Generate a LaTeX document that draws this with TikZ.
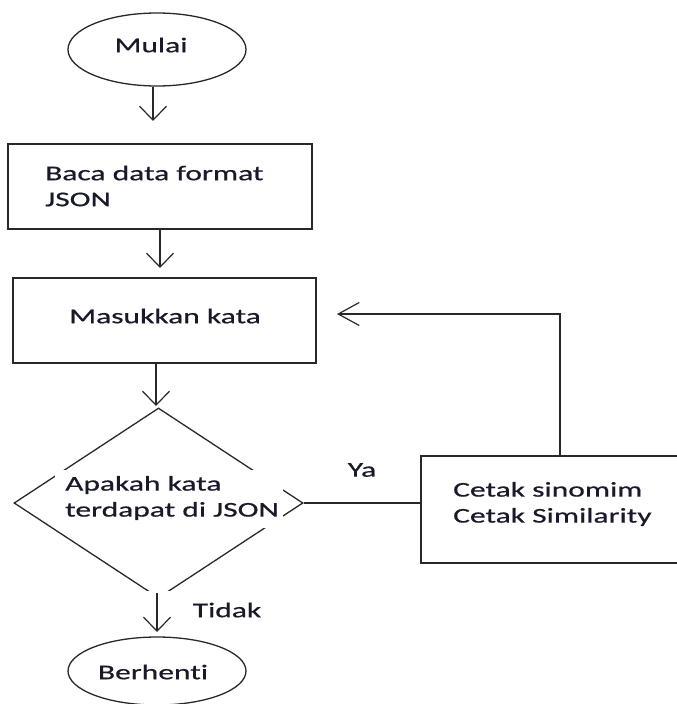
\documentclass[tikz,border=0pt]{standalone}
\usepackage{fontspec}
\setmainfont{Carlito}[FakeStretch=1.5, FakeBold=0.6, Ligatures={NoCommon}]
\usetikzlibrary{shapes.geometric,arrows.meta}
\definecolor{ink}{RGB}{40,40,40}
\definecolor{txt}{RGB}{24,26,42}
\tikzset{
  shapeline/.style={draw=ink, line width=1.3pt},
  terminal/.style={shapeline, ellipse, inner sep=0pt, minimum width=178pt, minimum height=#1},
  procbox/.style={shapeline, rectangle, inner sep=0pt},
  decision/.style={shapeline, diamond, inner sep=0pt, minimum width=289pt, minimum height=190pt},
  label/.style={text=txt, inner sep=0pt, font=\fontsize{21}{26}\selectfont},
  flow/.style={draw=ink, line width=1.3pt},
  downtip/.style={-{Straight Barb[length=14pt, width=27pt, line width=1.2pt]}},
  lefttip/.style={-{Straight Barb[length=21pt, width=23pt, line width=1.2pt]}},
}
\begin{document}
\begin{tikzpicture}[x=1pt, y=-1pt]
  \useasboundingbox (0,0) rectangle (677,704);
  \clip (0,0) rectangle (677,704);

  % shapes
  \node[terminal=73pt] (start) at (157,49.5) {};
  \node[procbox, minimum width=304pt, minimum height=85pt] (read) at (160,186.5) {};
  \node[procbox, minimum width=303pt, minimum height=85pt] (input) at (164.5,320.5) {};
  \node[decision] (check) at (158.5,503) {};
  \node[procbox, minimum width=300pt, minimum height=107pt] (print) at (571,509.5) {};
  \node[terminal=68pt] (stop) at (157,671) {};

  % white text frame inside the decision and at its lower tip
  \fill[white] (55,470) rectangle (283,528);
  \fill[white] (146,591) rectangle (172,601);

  % texts
  \node[label] (tstart) at (151,45) {Mulai};
  \node[label, anchor=west, align=left] (tread) at (45,186) {Baca data format\\JSON};
  \node[label] (tinput) at (165,316) {Masukkan kata};
  \node[label, anchor=west, align=left] (tcheck) at (65,498) {Apakah kata\\terdapat di JSON};
  \node[label, anchor=west, align=left] (tprint) at (453,504) {Cetak sinomim\\Cetak Similarity};
  \node[label] (tstop) at (153,672) {Berhenti};
  \node[label] (tyes) at (362,470) {Ya};
  \node[label] (tno) at (227,610) {Tidak};

  % free ends of the arrows
  \coordinate (e1) at (153,121);
  \coordinate (e2) at (160,268);
  \coordinate (e3) at (156,406);
  \coordinate (e4) at (157,632);
  \coordinate (e5) at (337,314);
  \coordinate (turn) at (560,314);

  % connectors
  \draw[flow, downtip] (start.south -| e1) -- (e1);
  \draw[flow, downtip] (read.south -| e2) -- (e2);
  \draw[flow, downtip] (input.south -| e3) -- (e3);
  \draw[flow, downtip] ([yshift=6pt]check.south -| e4) -- (e4);
  \draw[flow] (check.east) -- (print.west |- check.east);
  \draw[flow, lefttip] (print.north -| turn) -- (turn) -- (e5);
\end{tikzpicture}
\end{document}
